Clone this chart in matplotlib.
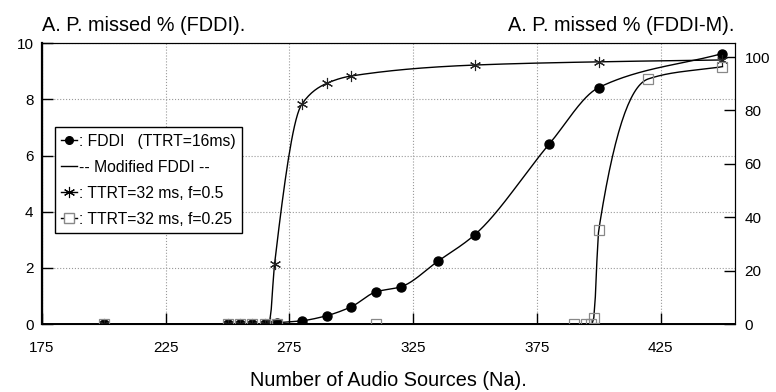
import matplotlib.pyplot as plt
import numpy as np
from matplotlib.lines import Line2D

plt.rcParams['font.family'] = ['Liberation Sans', 'DejaVu Sans']

# FDDI (TTRT=16ms), left axis, A. P. missed %
fddi_x = [200, 250, 255, 260, 265, 270, 280, 290, 300, 310, 320, 335, 350, 380, 400, 450]
fddi_y = [0, 0, 0, 0, 0, 0.05, 0.12, 0.3, 0.62, 1.15, 1.33, 2.24, 3.19, 6.41, 8.42, 9.63]

# Modified FDDI, right axis
f05_x = [200, 250, 255, 260, 265, 267, 269, 280, 290, 300, 350, 400, 450]
f05_y = [0, 0, 0, 0, 0, 0.9, 22.5, 82.3, 90.1, 92.9, 97.0, 98.2, 98.9]

f025_x = [200, 250, 255, 260, 265, 270, 310, 390, 395, 397, 398, 400, 420, 450]
f025_y = [0, 0, 0, 0, 0, 0, 0, 0, 0, 0, 2.4, 35.2, 91.8, 96.4]

xticks = [175, 225, 275, 325, 375, 425]


def smooth(x, y, n=400):
    # monotone cubic (pchip) curve through the points, for drawing the line only
    x = np.asarray(x, float)
    y = np.asarray(y, float)
    h = np.diff(x)
    d = np.diff(y) / h
    m = np.zeros_like(y)
    m[0], m[-1] = d[0], d[-1]
    for k in range(1, len(x) - 1):
        if d[k - 1] * d[k] > 0:
            w1 = 2 * h[k] + h[k - 1]
            w2 = h[k] + 2 * h[k - 1]
            m[k] = (w1 + w2) / (w1 / d[k - 1] + w2 / d[k])
    xs = np.linspace(x[0], x[-1], n)
    i = np.clip(np.searchsorted(x, xs) - 1, 0, len(x) - 2)
    t = (xs - x[i]) / h[i]
    h00 = 2 * t**3 - 3 * t**2 + 1
    h10 = t**3 - 2 * t**2 + t
    h01 = -2 * t**3 + 3 * t**2
    h11 = t**3 - t**2
    ys = h00 * y[i] + h10 * h[i] * m[i] + h01 * y[i + 1] + h11 * h[i] * m[i + 1]
    return xs, ys


fig = plt.figure(figsize=(7.76, 3.92), dpi=100)
ax = fig.add_axes([0.054, 0.173, 0.893, 0.717])
ax2 = ax.twinx()

ax.set_xlim(175, 455)
ax.set_ylim(0, 10)
ax2.set_ylim(0, 105.2)

ax.set_xticks(xticks)
ax.set_yticks([0, 2, 4, 6, 8, 10])
ax2.set_yticks([0, 20, 40, 60, 80, 100])
ax.grid(True, color='#999999', linestyle=':', linewidth=0.8)
ax.tick_params(direction='in', length=8, labelsize=11, width=1)
ax2.tick_params(direction='in', length=8, labelsize=11, width=1, pad=7)
ax.tick_params(axis='x', pad=12)
ax.tick_params(axis='y', pad=6)
ax.spines['left'].set_linewidth(1.6)
ax.spines['bottom'].set_linewidth(1.4)

sx, sy = smooth(fddi_x, fddi_y)
ax.plot(sx, sy, color='black', lw=1)
ax.plot(fddi_x, fddi_y, 'o', color='black', ms=6.5, zorder=4)

sx, sy = smooth(f05_x, f05_y)
ax2.plot(sx, sy, color='black', lw=1)
ax2.plot(f05_x, f05_y, linestyle='none', marker=(6, 2, 0), color='#222222', ms=8, mew=0.8)

sx, sy = smooth(f025_x, f025_y)
ax2.plot(sx, sy, color='black', lw=1)
ax2.plot(f025_x, f025_y, 's', mfc='none', mec='#888888', ms=6.5, mew=0.9)

handles = [
    Line2D([], [], color='black', lw=1, marker='o', ms=5.5),
    Line2D([], [], color='black', lw=1),
    Line2D([], [], color='black', lw=1, marker=(6, 2, 0), ms=8, mew=0.8),
    Line2D([], [], color='black', lw=1, marker='s', mfc='white', mec='#888888', ms=6.5),
]
labels = [': FDDI   (TTRT=16ms)', '-- Modified FDDI --', ': TTRT=32 ms, f=0.5', ': TTRT=32 ms, f=0.25']
leg = ax2.legend(handles, labels, loc='upper left', bbox_to_anchor=(0.019, 0.70),
                 borderaxespad=0, fancybox=False, framealpha=1, edgecolor='black',
                 fontsize=11.3, handlelength=1.0, handletextpad=0.1, labelspacing=0.7,
                 borderpad=0.4)
leg.get_frame().set_linewidth(1)

fig.text(0.054, 0.921, 'A. P. missed % (FDDI).', fontsize=14.3, ha='left', va='baseline')
fig.text(0.946, 0.921, 'A. P. missed % (FDDI-M).', fontsize=14.3, ha='right', va='baseline')
fig.text(0.5, 0.005, 'Number of Audio Sources (Na).', fontsize=14.3, ha='center', va='bottom')

plt.savefig('out.png', dpi=100)
